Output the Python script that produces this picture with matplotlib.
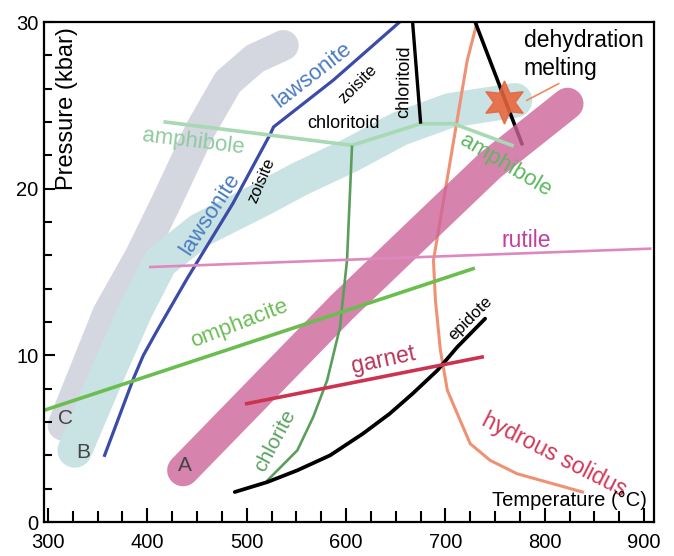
import matplotlib
matplotlib.use("Agg")
import matplotlib.pyplot as plt
from matplotlib.ticker import MultipleLocator

plt.rcParams['font.family'] = ['Liberation Sans', 'DejaVu Sans']

# ---------------- data (Temperature °C, Pressure kbar) ----------------
band_C_T = [315, 360, 393, 420, 453, 481, 508, 537]
band_C_P = [5.8, 12.5, 16.0, 19.3, 23.5, 26.4, 27.8, 28.6]

band_B_T = [327, 357, 388, 413, 453, 513, 554, 604, 654, 705, 770]
band_B_P = [4.3, 8.5, 12.7, 15.6, 17.5, 19.3, 20.6, 22.0, 23.6, 24.7, 25.3]

band_A_T = [436, 596, 666, 745, 823]
band_A_P = [3.1, 12.9, 16.9, 21.4, 25.1]

lawsonite_T = [357, 386, 396, 410, 440, 486, 524, 527, 587, 654]
lawsonite_P = [4.0, 8.6, 10.0, 11.5, 14.6, 19.1, 23.3, 23.7, 26.5, 30.0]

amphibole_T = [418, 606, 675, 708, 767]
amphibole_P = [24.0, 22.6, 23.9, 23.9, 22.6]

chlorite_T = [606, 601, 596, 594, 581, 567, 551, 521]
chlorite_P = [22.5, 15.7, 12.9, 11.7, 8.5, 6.3, 4.3, 2.5]

epidote_T = [488, 521, 551, 584, 617, 644, 667, 692, 712, 740]
epidote_P = [1.8, 2.4, 3.1, 4.0, 5.3, 6.5, 7.7, 9.1, 10.5, 12.2]

garnet_T = [500, 737]
garnet_P = [7.1, 9.9]

omphacite_T = [296, 728]
omphacite_P = [6.7, 15.2]

rutile_T = [403, 906]
rutile_P = [15.3, 16.4]

solidus_T = [732, 722, 688, 690, 695, 702, 712, 725, 745, 772, 802, 838]
solidus_P = [30.0, 27.7, 15.7, 13.3, 10.3, 7.9, 6.5, 4.7, 3.7, 2.9, 2.4, 1.8]

dehydration_T = [730, 777]
dehydration_P = [30.0, 22.7]

chloritoid_T = [667, 675]
chloritoid_P = [30.0, 24.0]

star_T = [759]
star_P = [25.2]
leader_T = [782, 814]
leader_P = [25.3, 26.3]

x_ticks = [300, 400, 500, 600, 700, 800, 900]
y_ticks = [0, 10, 20, 30]

# ---------------- figure ----------------
fig = plt.figure(figsize=(6.74, 5.56), dpi=100)
ax = fig.add_axes([44 / 674, 1 - 522 / 556, 610 / 674, 500 / 556])
ax.set_xlim(296, 910)
ax.set_ylim(0, 30)

# bands
ax.plot(band_C_T, band_C_P, color='#d4d6e0', lw=22, solid_capstyle='round',
        solid_joinstyle='round', zorder=1)
ax.plot(band_B_T, band_B_P, color='#c9e3e4', lw=25, solid_capstyle='round',
        solid_joinstyle='round', zorder=1.1)

# lines under pink band
ax.plot(solidus_T, solidus_P, color='#ef9274', lw=2.2, zorder=2,
        solid_joinstyle='round')
ax.plot(dehydration_T, dehydration_P, color='black', lw=2.6, zorder=2)

ax.plot(band_A_T, band_A_P, color='#cc6699', alpha=0.8, lw=23,
        solid_capstyle='round', solid_joinstyle='round', zorder=3)

# other lines
ax.plot(lawsonite_T, lawsonite_P, color='#3a4ba8', lw=2.3, zorder=4)
ax.plot(amphibole_T, amphibole_P, color='#a8d8b4', lw=2.6, zorder=4)
ax.plot(chlorite_T, chlorite_P, color='#5a9e5c', lw=1.9, zorder=4)
ax.plot(epidote_T, epidote_P, color='black', lw=2.7, zorder=4,
        solid_joinstyle='round', solid_capstyle='round')
ax.plot(garnet_T, garnet_P, color='#cc3350', lw=2.6, zorder=4)
ax.plot(omphacite_T, omphacite_P, color='#6cbd50', lw=2.6, zorder=4)
ax.plot(rutile_T, rutile_P, color='#dd88c0', lw=1.9, zorder=4)
ax.plot(chloritoid_T, chloritoid_P, color='black', lw=2.4, zorder=4)
ax.plot(leader_T, leader_P, color='#ef8a5a', lw=1.2, zorder=4)
ax.plot(star_T, star_P, marker=(6, 1, 0), markersize=31, color='#e8643c',
        alpha=0.88, linestyle='none', zorder=5)

# labels
def t(x, y, s, c='black', size=16, rot=0, ha='center', va='center'):
    ax.text(x, y, s, color=c, fontsize=size, rotation=rot, ha=ha, va=va,
            rotation_mode='anchor', zorder=6)

t(779, 28.9, 'dehydration', size=16.5, ha='left')
t(779, 27.2, 'melting', size=16.5, ha='left')
t(567, 26.8, 'lawsonite', c='#4a7cc0', size=16, rot=38)
t(463, 18.5, 'lawsonite', c='#4a7cc0', size=16, rot=57)
t(612, 26.3, 'zoisite', size=12, rot=45)
t(515, 20.5, 'zoisite', size=12, rot=67)
t(597, 23.9, 'chloritoid', size=13)
t(659, 26.4, 'chloritoid', size=13, rot=89)
t(446, 22.8, 'amphibole', c='#8ecb9e', size=16, rot=-7)
t(760, 21.4, 'amphibole', c='#5cb860', size=16, rot=-31)
t(781, 16.9, 'rutile', c='#c040a0', size=16.5)
t(493, 11.9, 'omphacite', c='#6cbd55', size=16, rot=21)
t(638, 9.7, 'garnet', c='#b8345a', size=16.5, rot=12)
t(529, 4.9, 'chlorite', c='#5aa060', size=15, rot=62)
t(725, 12.2, 'epidote', size=12, rot=45)
t(810, 4.0, 'hydrous solidus', c='#d03858', size=16.5, rot=-27)
t(825, 1.3, 'Temperature (°C)', size=14.5)
t(319, 24.8, 'Pressure (kbar)', size=17, rot=90)
t(438, 3.4, 'A', c='#444444', size=15)
t(336, 4.2, 'B', c='#444444', size=15)
t(318, 6.2, 'C', c='#444444', size=15)

# axes styling
ax.set_xticks(x_ticks)
ax.set_yticks(y_ticks)
ax.xaxis.set_minor_locator(MultipleLocator(25))
ax.yaxis.set_minor_locator(MultipleLocator(2))
ax.tick_params(axis='x', which='major', direction='in', length=10, width=1.5,
               pad=8, labelsize=14.5)
ax.tick_params(axis='x', which='minor', direction='in', length=8, width=1.5)
ax.tick_params(axis='y', which='major', direction='in', length=8, width=1.5,
               pad=4, labelsize=14.5)
ax.tick_params(axis='y', which='minor', direction='in', length=6, width=1.5)
for sp in ax.spines.values():
    sp.set_linewidth(1.6)
    sp.set_zorder(7)

fig.savefig('out.png', dpi=100)
